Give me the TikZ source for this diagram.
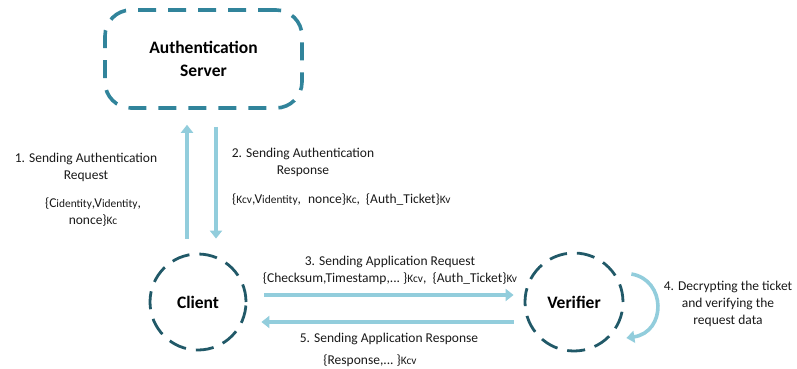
\documentclass[tikz,border=0pt]{standalone}
\usepackage{fontspec}
\setmainfont{Carlito}
\usetikzlibrary{arrows.meta,calc}

\definecolor{boxteal}{HTML}{31849B}
\definecolor{ringteal}{HTML}{215968}
\definecolor{flowblue}{HTML}{92CDDC}

% small letters used for key names and subscripts
\newcommand{\sm}[1]{{\fontsize{11.4}{12}\selectfont #1}}

\tikzset{
  txt/.style={font=\fontsize{13.5}{17}\selectfont, align=center, inner sep=0pt, text=black!90},
  title/.style={font=\fontsize{17.5}{23}\selectfont\bfseries, align=center, text=black},
  serverbox/.style={draw=boxteal, line width=3.6pt, rounded corners=26pt,
    dash pattern=on 18pt off 12pt, minimum width=197pt, minimum height=98pt},
  party/.style={circle, draw=ringteal, line width=2.8pt,
    dash pattern=on 18pt off 10pt, minimum size=96pt, inner sep=0pt},
  flow/.style={draw=flowblue, line width=3.6pt,
    -{Triangle[width=12pt,length=8pt]}}
}

\begin{document}
\begin{tikzpicture}[x=1pt,y=-1pt]
  \useasboundingbox (0,0) rectangle (797,369);

  % parties
  \node[serverbox, title] (server) at (203.5,59) {Authentication\\Server};
  \node[party, title] (client) at (198,302) {Client};
  \node[party, minimum size=98pt, title] (verifier) at (574,302) {Verifier};

  % authentication exchange
  \draw[flow] ($(client.north)+(-11,-14)$) -- ($(server.south)+(-16.5,15)$);
  \draw[flow] ($(server.south)+(12.5,17)$) -- ($(client.north)+(18,-14)$);

  % application exchange
  \draw[flow] ($(client.east)+(17,-7)$) -- ($(verifier.west)+(-10,-7)$);
  \draw[flow] ($(verifier.west)+(-10,20)$) -- ($(client.east)+(14,20)$);

  % verifier checks the ticket itself
  \draw[flow] ($(verifier.east)+(7,-28)$) .. controls ($(verifier.east)+(42,-22)$)
     and ($(verifier.east)+(42,30)$) .. ($(verifier.east)+(2,36)$);

  % labels
  \node[txt] (l1) at (86,167) {1. Sending Authentication\\Request};
  \node[txt] (l1k) at (93,212) {\{C\sm{identity},V\sm{identity},\\nonce\}\sm{Kc}};

  \node[txt] (l2) at (303,162) {2. Sending Authentication\\Response};
  \node[txt, anchor=west] (l2k) at (232,200)
    {\{\sm{Kcv},V\sm{identity},\hspace{7pt}nonce\}\sm{Kc},\hspace{6pt}\{Auth\_Ticket\}\sm{Kv}};

  \node[txt] (l3) at (390,270) {3. Sending Application Request\\
    \{Checksum,Timestamp,...\ \}\sm{Kcv},\ \ \{Auth\_Ticket\}\sm{Kv}};

  \node[txt] (l5) at (389,339) {5. Sending Application Response};
  \node[txt] (l5k) at (370,361) {\{Response,...\ \}\sm{Kcv}};

  \node[txt] (l4) at (728,304) {4. Decrypting the ticket\\and verifying the\\request data};
\end{tikzpicture}
\end{document}
